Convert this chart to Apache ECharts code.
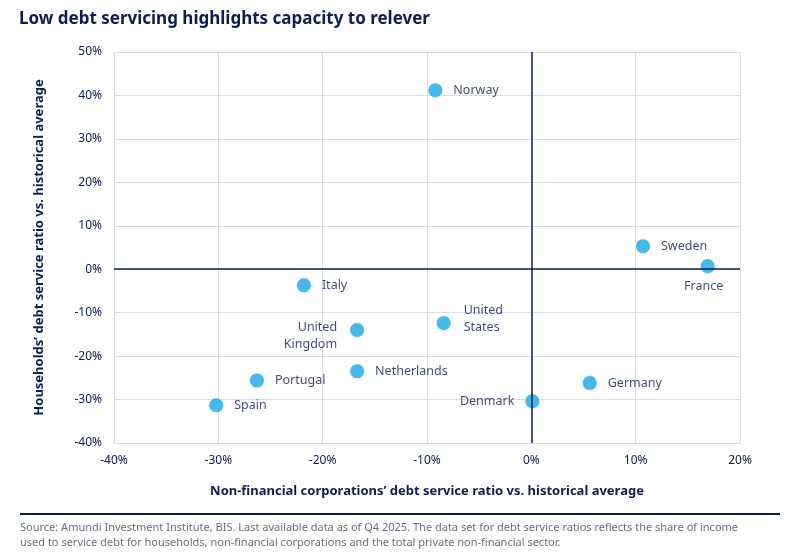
<!DOCTYPE html>
<html><head><meta charset="utf-8">
<script src="https://cdn.jsdelivr.net/npm/echarts@6/dist/echarts.min.js"></script>
<style>body{margin:0;background:#fff}#c{width:800px;height:559px}</style></head>
<body><div id="c"></div>
<script>
const countries = ['Norway','Sweden','France','Italy','United\nKingdom','United\nStates','Portugal','Netherlands','Spain','Denmark','Germany'];
const xValues = [-9.2,10.7,16.9,-21.8,-16.7,-8.4,-26.3,-16.7,-30.2,0.1,5.6];
const yValues = [41.2,5.3,0.7,-3.7,-14.0,-12.4,-25.6,-23.5,-31.3,-30.4,-26.2];
const labelPos = ['right','right','bottom','right','left','right','right','right','right','left','right'];
const navy = '#0f1f4d';
const data = countries.map((c,i)=>{
  const d = {name:c, value:[xValues[i],yValues[i]], label:{position:labelPos[i]}};
  if (labelPos[i]==='left') d.label.align='right';
  if (labelPos[i]==='bottom') d.label.align='center';
  if (c==='France') d.label.offset=[-4,-6];
  if (c.startsWith('United\nK')) d.label.offset=[-2,6];
  if (c.startsWith('United\nS')) d.label.offset=[2,-4];
  return d;
});
const chart = echarts.init(document.getElementById('c'));
chart.setOption({
  animation:false,
  title:{text:'Low debt servicing highlights capacity to relever',left:14,top:6,
    textStyle:{fontFamily:'Noto Sans',fontSize:17,fontWeight:'bold',color:navy}},
  grid:{left:114,right:60,top:52,bottom:116},
  xAxis:{type:'value',min:-40,max:20,interval:10,
    name:'Non-financial corporations\u2019 debt service ratio vs. historical average',
    nameLocation:'middle',nameGap:42,
    nameTextStyle:{fontFamily:'Noto Sans',fontSize:13,fontWeight:'bold',color:navy},
    axisLine:{onZero:false,show:false},axisTick:{show:false},
    axisLabel:{formatter:'{value}%',fontFamily:'Noto Sans',fontSize:12,color:navy,margin:12},
    splitLine:{lineStyle:{color:'#d9dde3'}}},
  yAxis:{type:'value',min:-40,max:50,interval:10,
    name:'Households\u2019 debt service ratio vs. historical average',
    nameLocation:'middle',nameGap:68,
    nameTextStyle:{fontFamily:'Noto Sans',fontSize:13,fontWeight:'bold',color:navy},
    axisLine:{onZero:false,show:false},axisTick:{show:false},
    axisLabel:{formatter:'{value}%',fontFamily:'Noto Sans',fontSize:12,color:navy,margin:12},
    splitLine:{lineStyle:{color:'#d9dde3'}}},
  graphic:[
    {type:'line',shape:{x1:20,y1:514,x2:780,y2:514},style:{stroke:navy,lineWidth:2}},
    {type:'text',left:20,top:520,style:{text:'Source: Amundi Investment Institute, BIS. Last available data as of Q4 2025. The data set for debt service ratios reflects the share of income\nused to service debt for households, non-financial corporations and the total private non-financial sector.',
      font:'11px "Noto Sans"',fill:'#6b6f78',lineHeight:15}}
  ],
  series:[{type:'scatter',symbolSize:15,data:data,
    itemStyle:{color:'#1aa7e1',borderColor:'#ffffff',borderWidth:1},
    label:{show:true,formatter:p=>p.name,fontFamily:'Noto Sans',fontSize:12.5,color:navy,distance:10,align:'left',lineHeight:17},
    markLine:{silent:true,symbol:'none',label:{show:false},
      lineStyle:{color:navy,width:1.5,type:'solid'},
      data:[{xAxis:0},{yAxis:0}]}
  }]
});
</script></body></html>
